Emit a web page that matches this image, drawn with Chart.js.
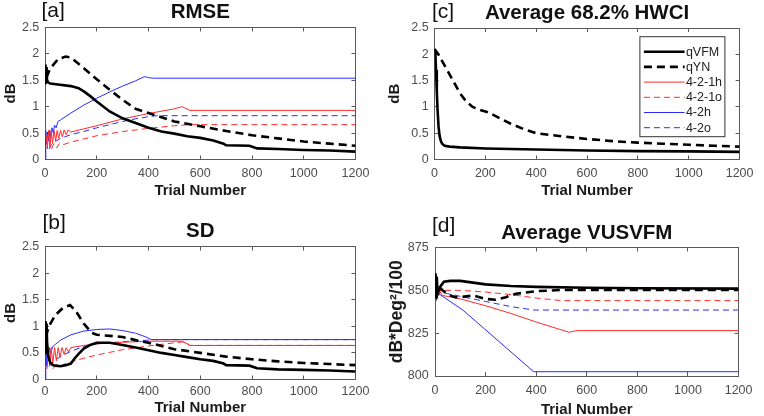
<!DOCTYPE html>
<html>
<head>
<meta charset="utf-8">
<script src="https://cdn.jsdelivr.net/npm/chart.js@4.4.0/dist/chart.umd.min.js"></script>
<style>
  body { margin: 0; background: #fff; }
  #wrap { position: relative; width: 764px; height: 416px; overflow: hidden; background: #fff; }
  #wrap canvas { position: absolute; }
</style>
</head>
<body>
<div id="wrap">
  <canvas id="pa" width="382" height="208" style="left:0;top:0;width:382px;height:208px"></canvas>
  <canvas id="pc" width="382" height="208" style="left:382px;top:0;width:382px;height:208px"></canvas>
  <canvas id="pb" width="382" height="208" style="left:0;top:208px;width:382px;height:208px"></canvas>
  <canvas id="pd" width="382" height="208" style="left:382px;top:208px;width:382px;height:208px"></canvas>
</div>
<script>
// axis ticks
var xTicks = [0, 200, 400, 600, 800, 1000, 1200];
var dbTicks = [0, 0.5, 1, 1.5, 2, 2.5];
var vusTicks = [800, 825, 850, 875];

// series (legend order)
var seriesNames = ["qVFM", "qYN", "4-2-1h", "4-2-1o", "4-2h", "4-2o"];
var seriesColors = ["#000000", "#000000", "#ff2b2b", "#ff2b2b", "#2b2bff", "#2b2bff"];
var seriesWidths = [2.6, 2.6, 1, 1, 1, 1];
var seriesDashes = [[], [8, 5], [], [6, 4], [], [6, 4]];

// [a] RMSE  -- [trial, value]
var rmseQVFM = [[0,1.45],[2,1.8],[4,1.5],[6,1.75],[8,1.47],[12,1.46],[20,1.44],[50,1.42],[100,1.39],[130,1.35],[150,1.29],[175,1.2],[200,1.1],[250,0.91],[300,0.78],[350,0.69],[400,0.6],[450,0.53],[500,0.49],[550,0.44],[600,0.41],[650,0.36],[690,0.3],[700,0.27],[790,0.26],[820,0.21],[900,0.2],[1000,0.18],[1100,0.17],[1200,0.15]];
var rmseQYN = [[5,1.55],[20,1.72],[50,1.9],[80,1.95],[100,1.93],[150,1.73],[200,1.52],[250,1.32],[300,1.13],[350,0.96],[400,0.88],[450,0.8],[500,0.72],[600,0.63],[700,0.54],[800,0.46],[900,0.4],[1000,0.34],[1100,0.3],[1200,0.26]];
var rmse421h = [[5,0.45],[9,0.2],[14,0.55],[19,0.22],[24,0.55],[29,0.3],[35,0.55],[41,0.35],[47,0.55],[53,0.4],[60,0.55],[67,0.43],[74,0.56],[82,0.47],[90,0.56],[100,0.52],[150,0.58],[200,0.64],[300,0.77],[400,0.87],[500,0.96],[530,1.0],[560,0.93],[1200,0.93]];
var rmse421o = [[25,0.2],[35,0.3],[45,0.22],[55,0.3],[70,0.28],[100,0.33],[150,0.39],[200,0.45],[250,0.49],[300,0.53],[400,0.59],[500,0.64],[560,0.66],[1200,0.66]];
var rmse42h = [[0,0],[3,0.55],[6,0.3],[10,0.52],[14,0.35],[18,0.55],[22,0.42],[27,0.6],[32,0.5],[37,0.65],[43,0.6],[50,0.72],[60,0.75],[100,0.88],[150,1.03],[200,1.16],[250,1.28],[300,1.39],[350,1.49],[385,1.57],[400,1.55],[420,1.54],[1200,1.54]];
var rmse42o = [[15,0.2],[25,0.28],[40,0.34],[60,0.4],[100,0.47],[150,0.53],[200,0.6],[250,0.66],[300,0.72],[350,0.77],[400,0.81],[430,0.83],[1200,0.83]];

// [b] SD
var sdQVFM = [[0,0.5],[2,1.1],[4,0.6],[6,1.05],[8,0.7],[12,0.45],[20,0.32],[30,0.27],[40,0.26],[60,0.25],[80,0.27],[100,0.3],[115,0.4],[130,0.48],[150,0.58],[175,0.65],[200,0.69],[250,0.69],[300,0.65],[350,0.6],[400,0.55],[450,0.5],[500,0.46],[550,0.42],[600,0.38],[650,0.35],[690,0.3],[700,0.27],[790,0.26],[820,0.21],[900,0.19],[1000,0.18],[1100,0.17],[1200,0.15]];
var sdQYN = [[3,0.8],[15,1.0],[40,1.21],[70,1.35],[97,1.4],[120,1.28],[150,1.05],[180,0.88],[200,0.84],[250,0.82],[300,0.8],[350,0.74],[400,0.69],[500,0.57],[600,0.5],[700,0.43],[800,0.38],[900,0.34],[1000,0.31],[1100,0.29],[1200,0.27]];
var sd421h = [[8,0.2],[13,0.55],[18,0.25],[24,0.6],[30,0.3],[37,0.6],[44,0.35],[51,0.6],[58,0.42],[66,0.6],[74,0.47],[82,0.6],[91,0.52],[100,0.6],[150,0.64],[200,0.67],[300,0.7],[400,0.72],[530,0.72],[560,0.64],[1200,0.64]];
var sd421o = [[30,0.2],[45,0.28],[60,0.25],[80,0.3],[100,0.33],[150,0.4],[200,0.46],[300,0.56],[400,0.63],[500,0.69],[540,0.71],[560,0.64],[1200,0.64]];
var sd42h = [[0,0],[3,0.6],[6,0.25],[9,0.62],[13,0.35],[17,0.6],[22,0.5],[30,0.62],[40,0.66],[60,0.74],[100,0.84],[150,0.91],[200,0.94],[250,0.95],[300,0.92],[350,0.87],[390,0.8],[410,0.75],[1200,0.75]];
var sd42o = [[15,0.25],[30,0.33],[50,0.4],[75,0.47],[100,0.53],[150,0.62],[200,0.67],[300,0.71],[400,0.74],[420,0.75],[1200,0.75]];

// [c] Average 68.2% HWCI
var hwciQVFM = [[0,2.1],[3,2.05],[6,1.7],[9,1.3],[12,0.95],[16,0.62],[20,0.45],[25,0.35],[30,0.3],[40,0.26],[60,0.245],[100,0.23],[200,0.21],[300,0.2],[400,0.19],[600,0.17],[800,0.16],[1000,0.155],[1200,0.145]];
var hwciQYN = [[0,2.1],[15,2.0],[30,1.87],[50,1.7],[75,1.48],[100,1.26],[125,1.1],[150,1.0],[180,0.94],[210,0.9],[250,0.8],[300,0.68],[350,0.58],[400,0.5],[500,0.44],[600,0.39],[700,0.35],[800,0.32],[900,0.3],[1000,0.28],[1100,0.26],[1200,0.245]];

// [d] Average VUSVFM
var vusQVFM = [[0,849],[2,860],[4,846],[7,858],[10,848],[20,852],[35,855],[60,855.5],[100,855.5],[150,854.5],[200,853.5],[300,852.5],[400,852],[600,851.5],[800,851.2],[1200,851]];
var vusQYN = [[0,850],[3,858],[8,848],[15,852],[30,850],[50,847.5],[80,846],[100,846],[150,847],[200,845],[240,844.5],[280,846],[320,848],[400,849.5],[500,850.2],[1200,850.2]];
var vus421h = [[0,850],[5,848],[10,850],[15,847],[20,849],[30,847],[100,845],[200,841],[300,836.5],[400,831.5],[530,825.5],[560,826.5],[1200,826.5]];
var vus421o = [[0,850],[100,850],[200,849],[300,847.5],[400,845.5],[500,844],[1200,844]];
var vus42h = [[0,850],[5,851],[10,848],[20,847.5],[110,838.5],[390,802.5],[1200,802.5]];
var vus42o = [[0,850],[50,848],[100,846.5],[200,843.5],[300,840.5],[390,838.5],[1200,838.5]];

var fam = "'Liberation Sans', Arial, sans-serif";
var axisColor = "#5a5a5a";
var tickColor = "#4d4d4d";
Chart.defaults.font.family = fam;

function buildSets(list) {
    var sets = [];
    for (var i = 0; i < list.length; i++) {
        if (!list[i]) continue;
        sets.push({
            label: seriesNames[i],
            data: list[i].map(function (p) { return { x: p[0], y: p[1] }; }),
            borderColor: seriesColors[i],
            borderWidth: seriesWidths[i],
            borderDash: seriesDashes[i],
            pointRadius: 0,
            fill: false,
            tension: 0
        });
    }
    return sets;
}

// letter, title and (optional) boxed legend
var panelText = {
    id: "panelText",
    afterDraw: function (chart, args, o) {
        var ctx = chart.ctx, ca = chart.chartArea;
        ctx.save();
        ctx.fillStyle = "#111";
        ctx.textBaseline = "middle";
        ctx.textAlign = "left";
        ctx.font = "21px " + fam;
        ctx.fillText(o.letter, o.letterX, o.letterY);
        ctx.textAlign = "center";
        ctx.font = "bold 20.5px " + fam;
        ctx.fillText(o.title, (ca.left + ca.right) / 2, o.titleY);

        if (o.legend) {
            var bx = ca.right - 99.7, by = ca.top + 8.7, bw = 85, bh = 100;
            ctx.fillStyle = "#fff";
            ctx.fillRect(bx, by, bw, bh);
            ctx.strokeStyle = "#333";
            ctx.lineWidth = 1;
            ctx.strokeRect(bx, by, bw, bh);
            ctx.font = "12.5px " + fam;
            ctx.textAlign = "left";
            for (var i = 0; i < seriesNames.length; i++) {
                var y = by + 15 + i * 15.2;
                ctx.beginPath();
                ctx.setLineDash(seriesDashes[i]);
                ctx.strokeStyle = seriesColors[i];
                ctx.lineWidth = seriesWidths[i];
                ctx.moveTo(bx + 4, y);
                ctx.lineTo(bx + 44.7, y);
                ctx.stroke();
                ctx.setLineDash([]);
                ctx.fillStyle = "#222";
                ctx.fillText(seriesNames[i], bx + 46, y + 0.5);
            }
        }
        ctx.restore();
    }
};

function makePanel(id, p) {
    var tickSet = function (arr) {
        return function (s) { s.ticks = arr.map(function (v) { return { value: v }; }); };
    };
    var grid = { drawOnChartArea: false, drawTicks: true, tickLength: -4, color: axisColor, lineWidth: 1 };
    var border = { display: true, color: axisColor, width: 1 };
    var tickFont = { size: 12.5 };
    var titleFont = { size: 15, weight: "bold" };
    var ySize = p.yTitleSize || 15;

    new Chart(document.getElementById(id), {
        type: "line",
        data: { datasets: buildSets(p.series) },
        plugins: [panelText],
        options: {
            responsive: false,
            animation: false,
            devicePixelRatio: 1,
            layout: { padding: { left: 0, top: p.top, right: 382 - p.right, bottom: 0 } },
            plugins: {
                legend: { display: false },
                tooltip: { enabled: false },
                panelText: { letter: p.letter, letterX: p.letterX, letterY: p.letterY, title: p.title, titleY: p.titleY, legend: !!p.legend }
            },
            scales: {
                x: {
                    type: "linear", position: "bottom", min: 0, max: 1200,
                    afterBuildTicks: tickSet(xTicks),
                    afterFit: function (s) { s.height = 208 - p.bottom; },
                    ticks: { color: tickColor, font: tickFont, padding: p.xGap - 7.5 + 4, maxRotation: 0, autoSkip: false,
                             callback: function (v) { return String(v); } },
                    grid: grid, border: border,
                    title: { display: true, text: "Trial Number", color: "#1a1a1a", font: titleFont,
                             padding: { top: 0, bottom: 208 - 9 - p.xTitleY } }
                },
                x2: {
                    type: "linear", position: "top", min: 0, max: 1200,
                    afterBuildTicks: tickSet(xTicks),
                    afterFit: function (s) { s.height = 0; },
                    ticks: { display: false },
                    grid: grid, border: border
                },
                y: {
                    type: "linear", position: "left", min: p.yMin, max: p.yMax,
                    afterBuildTicks: tickSet(p.yTicks),
                    afterFit: function (s) { s.width = p.left; },
                    ticks: { color: tickColor, font: tickFont, padding: p.yGap + 4, autoSkip: false,
                             callback: function (v) { return String(v); } },
                    grid: grid, border: border,
                    title: { display: true, text: p.yTitle, color: "#1a1a1a", font: { size: ySize, weight: "bold" },
                             padding: { top: p.yTitleX - ySize * 0.6, bottom: 0 } }
                },
                y2: {
                    type: "linear", position: "right", min: p.yMin, max: p.yMax,
                    afterBuildTicks: tickSet(p.yTicks),
                    afterFit: function (s) { s.width = 0; },
                    ticks: { display: false },
                    grid: grid, border: border
                }
            }
        }
    });
}

makePanel("pa", {
    series: [rmseQVFM, rmseQYN, rmse421h, rmse421o, rmse42h, rmse42o],
    letter: "[a]", letterX: 41.5, letterY: 11, title: "RMSE", titleY: 12.7,
    left: 45, right: 355.5, top: 27.5, bottom: 159.5,
    xGap: 13.8, xTitleY: 190.7, yTitleX: 10.8, yGap: 5.7,
    yMin: 0, yMax: 2.5, yTicks: dbTicks, yTitle: "dB"
});
makePanel("pb", {
    series: [sdQVFM, sdQYN, sd421h, sd421o, sd42h, sd42o],
    letter: "[b]", letterX: 42.5, letterY: 15, title: "SD", titleY: 23.3,
    left: 45, right: 355.5, top: 38.5, bottom: 171.5,
    xGap: 11.8, xTitleY: 199.5, yTitleX: 10.8, yGap: 5.7,
    yMin: 0, yMax: 2.5, yTicks: dbTicks, yTitle: "dB"
});
makePanel("pc", {
    series: [hwciQVFM, hwciQYN, null, null, null, null],
    letter: "[c]", letterX: 50, letterY: 12.5, title: "Average 68.2% HWCI", titleY: 13.3,
    left: 52.5, right: 363, top: 28, bottom: 159.5,
    xGap: 14, xTitleY: 191, yTitleX: 13.3, yGap: 5.8,
    yMin: 0, yMax: 2.5, yTicks: dbTicks, yTitle: "dB", legend: true
});
makePanel("pd", {
    series: [vusQVFM, vusQYN, vus421h, vus421o, vus42h, vus42o],
    letter: "[d]", letterX: 50, letterY: 18.3, title: "Average VUSVFM", titleY: 25,
    left: 53, right: 363, top: 39.5, bottom: 168,
    xGap: 15, xTitleY: 201.7, yTitleX: 15, yGap: 6.3,
    yMin: 800, yMax: 875, yTicks: vusTicks, yTitle: "dB*Deg\u00b2/100", yTitleSize: 17.5
});
</script>
</body>
</html>
